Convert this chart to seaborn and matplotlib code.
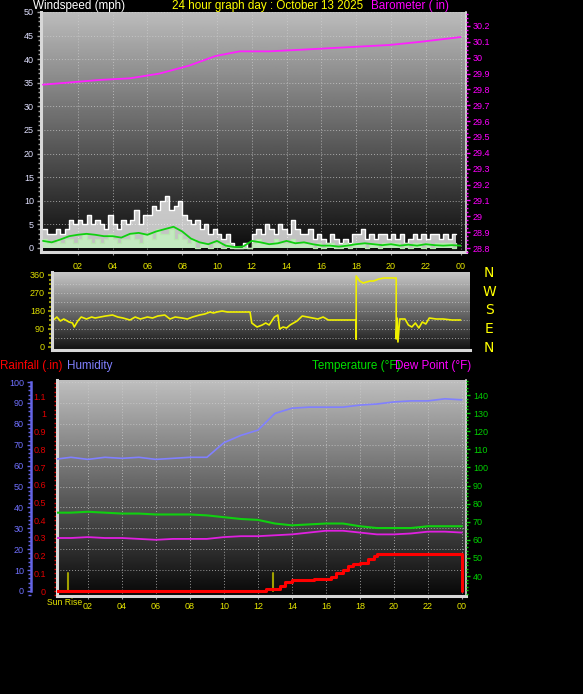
import numpy as np
import matplotlib
matplotlib.use("Agg")
import matplotlib.pyplot as plt
from matplotlib.ticker import MultipleLocator, FixedLocator
import seaborn as sns

sns.set_style("dark")
plt.rcParams['font.family'] = ['Liberation Sans', 'DejaVu Sans']

# ---- wind (15 minute steps, hour 0 .. 23.75)
wind_hours = np.arange(0, 24, 0.25)
gust_mph = [4, 3, 3, 4, 3, 4, 6, 5, 6, 5, 7, 5, 6, 5, 4, 7,
            5, 4, 6, 5, 6, 8, 5, 7, 7, 9, 8, 10, 11, 8, 9, 10,
            7, 6, 5, 6, 4, 5, 3, 4, 3, 2, 3, 1, 0, 0, 1, 0,
            3, 4, 3, 5, 4, 3, 5, 4, 3, 6, 4, 3, 3, 4, 2, 3,
            2, 1, 3, 2, 1, 2, 1, 3, 3, 4, 2, 3, 2, 3, 3, 2,
            3, 2, 3, 1, 2, 3, 2, 3, 2, 3, 3, 2, 3, 2, 3, 3]
speed_mph = [2, 1, 1, 2, 1, 2, 2, 1, 2, 3, 2, 1, 2, 1, 2, 3,
             2, 1, 2, 2, 3, 2, 1, 3, 3, 2, 4, 3, 3, 4, 2, 3,
             2, 1, 2, 0, 1, 1, 0, 1, 1, 0, 1, 0, 0, 0, 0, 0,
             1, 2, 1, 1, 1, 2, 1, 1, 1, 2, 1, 1, 1, 1, 0, 1,
             0, 1, 1, 0, 0, 1, 0, 1, 1, 1, 0, 1, 1, 0, 1, 1,
             1, 1, 0, 1, 0, 1, 1, 0, 1, 0, 1, 1, 1, 1, 0, 1]
avg_hours = np.arange(0, 24.5, 0.5)
avg_mph = [1.5, 1.2, 1.8, 2.5, 2.8, 3.0, 2.8, 2.5, 2.5, 2.2, 3.0, 3.2, 2.8,
           3.5, 4.0, 4.5, 3.5, 2.0, 1.2, 0.8, 1.5, 0.5, 0.2, 0.3, 1.5, 1.2,
           0.8, 1.0, 1.5, 1.0, 1.2, 0.8, 0.5, 0.5, 0.3, 0.5, 0.8, 1.0, 0.8,
           0.6, 0.8, 0.5, 0.7, 0.5, 0.8, 0.6, 0.5, 0.6, 0.5]

# ---- barometer
baro_hours = [0, 3.3, 5, 6.7, 8.4, 9.9, 11.3, 13, 14.8, 16.5, 18.2, 19.9, 21.7, 24]
baro_in = [29.83, 29.86, 29.87, 29.90, 29.95, 30.01, 30.04, 30.04, 30.05,
           30.06, 30.07, 30.08, 30.10, 30.13]

# ---- wind direction
dir_hours = [0.6, 0.8, 1.0, 1.2, 1.5, 1.7, 1.8, 2.0, 2.2, 2.5, 2.8, 3.0, 3.3, 3.6,
             4.0, 4.3, 4.6, 5.0, 5.3, 5.6, 6.0, 6.3, 6.6, 7.0, 7.3, 7.6, 8.0, 8.3,
             8.6, 9.0, 9.3, 9.6, 9.8, 10.0, 10.3, 10.6, 11.0, 11.5, 11.9, 12.0,
             12.3, 12.6, 12.8, 13.0, 13.3, 13.5, 13.6, 13.8, 14.0, 14.2, 14.4,
             14.6, 14.9, 15.2, 15.5, 15.8, 16.1, 16.4, 16.8, 17.5, 18.0, 18.0,
             18.0, 18.2, 18.4, 18.8, 19.0, 19.3, 19.6, 20.0, 20.3, 20.3, 20.35,
             20.4, 20.5, 20.8, 21.0, 21.2, 21.4, 21.6, 21.8, 22.0, 22.2, 22.6,
             23.0, 23.5, 24.0]
dir_deg = [135, 150, 130, 140, 125, 120, 100, 130, 150, 140, 150, 145, 150, 155,
           160, 150, 145, 135, 150, 140, 150, 145, 155, 160, 140, 150, 145, 140,
           150, 160, 165, 175, 170, 175, 180, 175, 175, 175, 175, 120,
           100, 110, 120, 110, 150, 160, 90, 100, 95, 110, 120,
           130, 155, 150, 145, 140, 150, 135, 135, 135, 135, 40,
           355, 330, 320, 330, 330, 340, 345, 345, 345, 40, 145,
           25, 140, 140, 110, 100, 120, 95, 125, 115, 145, 140,
           140, 135, 135]

# ---- hourly temperature, dew point, humidity
hours = np.arange(0, 25)
temp_f = [75, 75, 75.5, 75, 74.5, 74.5, 74, 74, 74, 73.5, 72.5, 71.5, 71, 69, 68,
          68.5, 69, 69, 67.5, 66.5, 66.5, 66.5, 67.5, 67.5, 67.5]
dew_f = [61, 61, 61.5, 61, 61, 60.5, 60, 60.5, 60.5, 60.5, 61.5, 62, 62, 62.5, 63,
         64, 65, 65, 64, 63, 63, 63.5, 64.5, 64.5, 64]
humidity = [63, 64, 63, 64, 63.5, 64, 63, 63.5, 64, 64, 71, 74.5, 77, 85, 87.5, 88,
            88, 88, 89, 89.5, 90.5, 91, 91, 92, 91.5]

# ---- rainfall (cumulative)
rain_hours = [0.2, 12.4, 12.5, 13.1, 13.3, 13.6, 14.0, 15.3, 16.3, 16.6, 17.0,
              17.3, 17.6, 18.0, 18.5, 18.8, 19.0, 24.0, 24.0]
rain_in = [0, 0, 0.01, 0.01, 0.03, 0.05, 0.06, 0.07, 0.08, 0.10, 0.12, 0.14,
           0.15, 0.16, 0.18, 0.20, 0.21, 0.21, 0.0]

sun_marks = [0.8, 12.9]

x_ticks = list(range(2, 25, 2))
x_labels = ["%02d" % (h % 24) for h in x_ticks]

W, H = 583, 694
fig = plt.figure(figsize=(W / 100, H / 100), dpi=100, facecolor="black")


def box(l, t, r, b):
    return [l / W, 1 - b / H, (r - l) / W, (b - t) / H]


def shade(ax, top=0.74, bottom=0.04):
    g = np.linspace(bottom, top, 256).reshape(-1, 1)
    ax.imshow(g, extent=[0, 1, 0, 1], transform=ax.transAxes, origin="lower",
              aspect="auto", cmap="gray", vmin=0, vmax=1, zorder=0)


def frame(ax):
    ax.set_facecolor("black")
    for s in ["left", "bottom"]:
        ax.spines[s].set_color("#d8d8d8")
        ax.spines[s].set_linewidth(2.2)
    ax.spines["right"].set_color("#d8d8d8")
    ax.spines["right"].set_linewidth(1.2)
    ax.spines["top"].set_visible(False)


grid_kw = dict(color="#d0d0d0", ls=(0, (1, 2)), lw=0.7, alpha=0.7, zorder=1)
tick_font = 6.5

# ================= top panel: wind + barometer
ax1 = fig.add_axes(box(41, 12, 466, 252))
frame(ax1)
shade(ax1)
ax1.set_xlim(-0.115, 24.31)
ax1.set_ylim(-0.85, 50)
for h in x_ticks:
    ax1.axvline(h, **grid_kw)
for v in range(5, 51, 5):
    ax1.axhline(v, **grid_kw)

ax1.fill_between(wind_hours, 0, gust_mph, step="post", color="#ffffff", alpha=0.75,
                 lw=0, zorder=2)
sns.lineplot(x=wind_hours, y=gust_mph, ax=ax1, color="#ffffff", lw=1.0,
             drawstyle="steps-post", zorder=3)
ax1.fill_between(wind_hours, 0, speed_mph, step="post", color="#c4eec0", alpha=0.9,
                 lw=0, zorder=3)
sns.lineplot(x=wind_hours, y=speed_mph, ax=ax1, color="#b8e8b0", lw=0.9,
             drawstyle="steps-post", zorder=3)
sns.lineplot(x=avg_hours, y=avg_mph, ax=ax1, color="#10d010", lw=1.3, zorder=4)

ax1.set_xticks(x_ticks)
ax1.set_xticklabels(x_labels)
ax1.yaxis.set_major_locator(MultipleLocator(5))
ax1.yaxis.set_minor_locator(MultipleLocator(1))
ax1.tick_params(axis="y", which="both", left=True, colors="#a0a0a0", labelcolor="#e0e0ff",
                labelsize=tick_font, length=3, width=1, pad=2)
ax1.tick_params(axis="y", which="minor", length=2)
ax1.tick_params(axis="x", bottom=True, colors="#a0a0a0", labelcolor="#e8e800",
                labelsize=tick_font, length=2, pad=5)
ax1.set_xlabel("")
ax1.set_ylabel("")

ax1b = ax1.twinx()
ax1b.set_ylim(28.775, 30.288)
sns.lineplot(x=baro_hours, y=baro_in, ax=ax1b, color="#ff20ff", lw=1.3)
ax1b.yaxis.set_major_locator(FixedLocator(np.round(np.arange(28.8, 30.21, 0.1), 1)))
ax1b.yaxis.set_major_formatter(plt.FuncFormatter(lambda v, p: ("%.1f" % v).rstrip("0").rstrip(".")))
ax1b.yaxis.set_minor_locator(MultipleLocator(0.025))
ax1b.tick_params(axis="y", which="both", right=True, colors="#ff00ff", labelsize=tick_font,
                 length=3, width=1, pad=2)
ax1b.tick_params(axis="y", which="minor", length=1.5)
ax1b.set_ylabel("")
for s in ax1b.spines.values():
    s.set_visible(False)

# ================= middle panel: wind direction
ax2 = fig.add_axes(box(52, 272, 470, 350))
frame(ax2)
ax2.spines["right"].set_visible(False)
shade(ax2, top=0.78, bottom=0.07)
ax2.set_xlim(0.52, 24.54)
ax2.set_ylim(-15, 375)
for v in range(45, 360, 45):
    ax2.axhline(v, **grid_kw)
sns.lineplot(x=dir_hours, y=dir_deg, ax=ax2, color="#f0f000", lw=1.2, sort=False,
             estimator=None)
ax2.set_xticks([])
ax2.yaxis.set_major_locator(MultipleLocator(90))
ax2.yaxis.set_minor_locator(MultipleLocator(22.5))
ax2.tick_params(axis="y", which="both", left=True, colors="#909000", labelcolor="#e0e000",
                labelsize=tick_font, length=3, width=1.5, pad=2)
ax2.tick_params(axis="y", which="minor", length=2)
ax2.set_ylabel("")
for i, c in enumerate("NWSEN"):
    fig.text(489 / W, 1 - (273 + i * 18.7) / H, c, color="#ffff00", fontsize=10,
             ha="center", va="center", family="DejaVu Sans")

# ================= bottom panel: rain, humidity, temperature, dew point
ax3 = fig.add_axes(box(57, 380, 466, 596))
frame(ax3)
shade(ax3, top=0.75, bottom=0.03)
ax3.set_xlim(0.18, 24.24)
ax3.set_ylim(-0.028, 1.192)

ax3h = ax3.twinx()
ax3h.set_ylim(-2.4, 101)
ax3t = ax3.twinx()
ax3t.set_ylim(28.95, 148.3)

for h in x_ticks:
    ax3.axvline(h, **grid_kw)
for v in range(10, 101, 10):
    ax3.axhline((v + 2.4) / 103.4 * 1.22 - 0.028, **grid_kw)

for s in sun_marks:
    ax3.plot([s, s], [0, 0.1], color="#a0a000", lw=1.5, zorder=2)
sns.lineplot(x=rain_hours, y=rain_in, ax=ax3, color="#ff0000", lw=2.2, sort=False,
             estimator=None, drawstyle="steps-post", zorder=5)
ax3.set_xticks(x_ticks)
ax3.set_xticklabels(x_labels)
ax3.text(0.65, -0.065, "Sun Rise", color="#e8e800", fontsize=6.2, ha="center",
         va="center", transform=ax3.transData)
ax3.yaxis.set_major_locator(FixedLocator(np.round(np.arange(0, 1.11, 0.1), 1)))
ax3.yaxis.set_major_formatter(plt.FuncFormatter(lambda v, p: ("%.1f" % v).rstrip("0").rstrip(".")))
ax3.yaxis.set_minor_locator(MultipleLocator(0.025))
ax3.tick_params(axis="y", which="both", left=True, colors="#e00000", labelsize=tick_font,
                length=2, width=1, pad=6)
ax3.tick_params(axis="x", bottom=True, colors="#a0a0a0", labelcolor="#e8e800",
                labelsize=tick_font, length=2, pad=2)
ax3.set_xlabel("")
ax3.set_ylabel("")

sns.lineplot(x=hours, y=humidity, ax=ax3h, color="#8080ff", lw=1.2)
ax3h.spines["left"].set_visible(True)
ax3h.spines["left"].set_position(("axes", -0.064))
ax3h.spines["left"].set_color("#6464e6")
ax3h.spines["left"].set_linewidth(1.8)
for s in ["right", "top", "bottom"]:
    ax3h.spines[s].set_visible(False)
ax3h.spines["left"].set_bounds(0, 100)
ax3h.yaxis.set_ticks_position("left")
ax3h.yaxis.set_label_position("left")
ax3h.set_yticks(range(0, 101, 10))
ax3h.yaxis.set_minor_locator(MultipleLocator(2))
ax3h.tick_params(axis="y", which="both", colors="#6464e6", labelcolor="#7070ff",
                 labelsize=tick_font, length=3, width=1, pad=2)
ax3h.tick_params(axis="y", which="minor", length=2)
ax3h.set_ylabel("")

sns.lineplot(x=hours, y=temp_f, ax=ax3t, color="#10d010", lw=1.5)
sns.lineplot(x=hours, y=dew_f, ax=ax3t, color="#e020e0", lw=1.3)
for s in ax3t.spines.values():
    s.set_visible(False)
ax3t.set_yticks(range(40, 141, 10))
ax3t.yaxis.set_minor_locator(MultipleLocator(2))
ax3t.tick_params(axis="y", which="both", right=True, colors="#00d000", labelsize=tick_font,
                 length=3, width=1, pad=2)
ax3t.tick_params(axis="y", which="minor", length=1.5)
ax3t.set_ylabel("")

# ================= headings
hk = dict(fontsize=8.4, va="center", ha="left")
fig.text(33 / W, 1 - 6 / H, "Windspeed (mph)", color="#ffffff", **hk)
fig.text(172 / W, 1 - 6 / H, "24 hour graph day : October 13 2025", color="#ffff00", **hk)
fig.text(371 / W, 1 - 6 / H, "Barometer ( in)", color="#ff00ff", **hk)
fig.text(0 / W, 1 - 366 / H, "Rainfall (.in)", color="#ff0000", **hk)
fig.text(67 / W, 1 - 366 / H, "Humidity", color="#8080ff", **hk)
fig.text(312 / W, 1 - 366 / H, "Temperature (°F)", color="#00e000", **hk)
fig.text(395 / W, 1 - 366 / H, "Dew Point (°F)", color="#ff00ff", **hk)

fig.savefig("out.png", dpi=100, facecolor="black")
